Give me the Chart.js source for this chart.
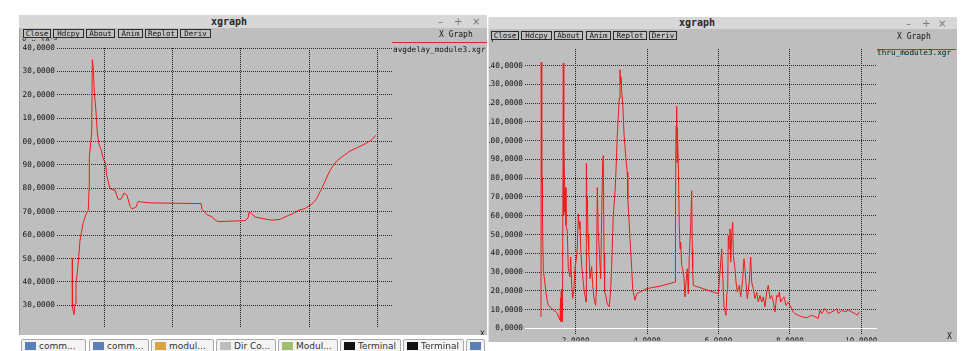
<!DOCTYPE html>
<html>
<head>
<meta charset="utf-8">
<script src="https://cdn.jsdelivr.net/npm/chart.js@4.4.1/dist/chart.umd.min.js"></script>
<style>
*{box-sizing:border-box;}
html,body{margin:0;padding:0;background:#fff;}
body{width:964px;height:351px;position:relative;overflow:hidden;font-family:'DejaVu Sans Mono',monospace;}
.win{position:absolute;background:#bebebe;}
.tbar{position:absolute;background:#d7d7d7;}
.ttl{position:absolute;height:12px;line-height:12px;font:bold 10px 'DejaVu Sans Mono',monospace;color:#2a2a2a;text-align:center;}
.ctl{position:absolute;height:12px;line-height:12px;font:10px 'DejaVu Sans',sans-serif;color:#777;}
.btn{position:absolute;height:9px;border:1px solid #2a2a2a;font:7.5px 'DejaVu Sans Mono',monospace;line-height:7px;text-align:center;color:#111;background:#c2c2c2;}
.txt{position:absolute;font:7.7px 'DejaVu Sans Mono',monospace;color:#111;white-space:nowrap;line-height:9px;}
.clip{position:absolute;overflow:hidden;}
.task{position:absolute;top:339px;height:16px;border:1px solid #a9a9a9;border-radius:2px;background:#f3f3f3;font:9px 'DejaVu Sans',sans-serif;color:#333;line-height:12px;padding-left:17px;white-space:nowrap;overflow:hidden;}
.ico{position:absolute;left:3px;top:2px;width:11px;height:8px;}
canvas{position:absolute;}
</style>
</head>
<body>
<!-- left window -->
<div class="win" style="left:19px;top:15px;width:468px;height:320px;border-left:1px solid #a0a0a0;"></div>
<div class="tbar" style="left:19px;top:15px;width:468px;height:13px;"></div>
<div class="ttl" style="left:209px;top:15.5px;width:40px;">xgraph</div>
<div class="ctl" style="left:438px;top:15.5px;">&#8211;</div>
<div class="ctl" style="left:454px;top:15.5px;">+</div>
<div class="ctl" style="left:472px;top:15.5px;">&#215;</div>
<canvas id="delayChart" width="464" height="296" style="left:23px;top:38px;"></canvas>
<div class="clip" style="left:21px;top:37.5px;width:40px;height:3.5px;"><div class="txt" style="left:1px;top:-5px;">Y x 10<sup style="font-size:6px">-3</sup></div></div>
<div class="btn" style="left:23px;top:29px;width:28px;">Close</div>
<div class="btn" style="left:53px;top:29px;width:31px;">Hdcpy</div>
<div class="btn" style="left:86px;top:29px;width:29px;">About</div>
<div class="btn" style="left:118px;top:29px;width:25px;">Anim</div>
<div class="btn" style="left:145px;top:29px;width:33px;">Replot</div>
<div class="btn" style="left:180px;top:29px;width:31px;">Deriv</div>
<div class="txt" style="left:439px;top:30px;font-size:8px;">X Graph</div>
<div style="position:absolute;left:392px;top:42px;width:95px;height:1px;background:#e22;"></div>
<div class="txt" style="left:393px;top:45px;">avgdelay_module3.xgr</div>
<div class="clip" style="left:479px;top:328px;width:8px;height:7px;"><div class="txt" style="left:1px;top:1px;">X</div></div>

<!-- right window -->
<div class="win" style="left:488px;top:17px;width:469px;height:325px;border-left:1px solid #e4e4e4;"></div>
<div class="tbar" style="left:489px;top:17px;width:468px;height:12px;"></div>
<div class="ttl" style="left:677px;top:17px;width:40px;">xgraph</div>
<div class="ctl" style="left:906px;top:17.5px;">&#8211;</div>
<div class="ctl" style="left:922px;top:17.5px;">+</div>
<div class="ctl" style="left:938px;top:17.5px;">&#215;</div>
<canvas id="thruChart" width="468" height="302" style="left:489px;top:40px;"></canvas>
<div class="clip" style="left:490px;top:39.5px;width:10px;height:3px;"><div class="txt" style="left:0px;top:-5px;">Y</div></div>
<div class="btn" style="left:491px;top:30.5px;width:28px;">Close</div>
<div class="btn" style="left:521px;top:30.5px;width:31px;">Hdcpy</div>
<div class="btn" style="left:554px;top:30.5px;width:29px;">About</div>
<div class="btn" style="left:586px;top:30.5px;width:25px;">Anim</div>
<div class="btn" style="left:613px;top:30.5px;width:34px;">Replot</div>
<div class="btn" style="left:649px;top:30.5px;width:28px;">Deriv</div>
<div class="txt" style="left:897px;top:32px;font-size:8px;">X Graph</div>
<div style="position:absolute;left:877px;top:48.5px;width:79px;height:1px;background:#e22;"></div>
<div class="txt" style="left:877px;top:48px;">thru_module3.xgr</div>
<div class="txt" style="left:947px;top:332px;font-size:8px;">X</div>

<!-- taskbar -->
<div class="task" style="left:21px;width:65px;"><span class="ico" style="background:#5b7fb8"></span>comm...</div>
<div class="task" style="left:89px;width:60px;"><span class="ico" style="background:#5b7fb8"></span>comm...</div>
<div class="task" style="left:151px;width:63px;"><span class="ico" style="background:#d9a441"></span>modul...</div>
<div class="task" style="left:216px;width:60px;"><span class="ico" style="background:#bdbdbd"></span>Dir Co...</div>
<div class="task" style="left:278px;width:60px;"><span class="ico" style="background:#9fbf6f"></span>Modul...</div>
<div class="task" style="left:340px;width:61px;"><span class="ico" style="background:#111"></span>Terminal</div>
<div class="task" style="left:403px;width:61px;"><span class="ico" style="background:#111"></span>Terminal</div>
<div class="task" style="left:466px;width:16px;"><span class="ico" style="background:#5b7fb8"></span></div>

<script>
// ---- data: average delay (module 3), Y x 10^-3 ----
const delayTime = [1.063, 1.066, 1.113, 1.142, 1.171, 1.209, 1.250, 1.288, 1.338, 1.385,
  1.464, 1.531, 1.552, 1.560, 1.602, 1.631, 1.649, 1.678, 1.707, 1.757,
  1.795, 1.845, 1.903, 1.971, 2.029, 2.070, 2.117, 2.167, 2.264, 2.313,
  2.401, 2.489, 2.577, 2.665, 2.753, 2.811, 2.928, 2.987, 3.192, 3.338,
  4.832, 4.861, 4.949, 5.037, 5.154, 5.242, 5.330, 5.681, 6.120, 6.208,
  6.237, 6.281, 6.413, 6.618, 6.911, 7.145, 7.350, 7.584, 7.672, 7.877,
  8.053, 8.199, 8.316, 8.433, 8.580, 8.697, 8.814, 8.960, 9.195, 9.400,
  9.634, 9.839, 9.947];
const delayValue = [50.0, 29.2, 26.1, 30.6, 39.7, 43.8, 50.8, 57.7, 61.9, 65.4,
  68.9, 70.7, 79.3, 93.2, 99.5, 103.7, 135.0, 131.5, 121.1, 112.7,
  103.7, 98.8, 96.7, 92.5, 91.1, 85.6, 82.8, 80.0, 79.3, 79.3,
  75.4, 75.4, 78.0, 77.0, 72.4, 71.2, 72.0, 74.4, 74.0, 73.8,
  73.5, 71.0, 69.6, 68.5, 67.9, 66.5, 65.8, 66.0, 66.2, 67.4,
  70.0, 69.6, 67.8, 67.1, 66.4, 66.8, 68.2, 69.6, 70.6, 71.4,
  73.1, 75.2, 78.6, 82.1, 87.0, 89.8, 91.9, 93.5, 96.0, 97.4,
  99.0, 100.9, 102.7];

// ---- data: throughput (module 3) ----
const thruTime = [1.028, 1.035, 1.045, 1.052, 1.060, 1.070, 1.092, 1.140, 1.188, 1.233,
  1.328, 1.468, 1.560, 1.575, 1.585, 1.595, 1.605, 1.615, 1.630, 1.653,
  1.660, 1.672, 1.690, 1.700, 1.715, 1.728, 1.765, 1.793, 1.840, 1.860,
  1.888, 1.916, 1.952, 1.980, 2.008, 2.045, 2.073, 2.101, 2.120, 2.140,
  2.168, 2.196, 2.232, 2.289, 2.300, 2.318, 2.325, 2.345, 2.364, 2.401,
  2.448, 2.476, 2.513, 2.560, 2.580, 2.605, 2.633, 2.661, 2.700, 2.728,
  2.756, 2.773, 2.793, 2.810, 2.849, 2.885, 2.941, 2.980, 3.008, 3.053,
  3.101, 3.129, 3.165, 3.193, 3.221, 3.241, 3.255, 3.269, 3.289, 3.317,
  3.353, 3.381, 3.409, 3.445, 3.460, 3.493, 3.521, 3.569, 3.597, 3.633,
  3.661, 3.709, 3.801, 3.989, 4.361, 4.782, 4.795, 4.810, 4.829, 4.840,
  4.846, 4.874, 4.902, 4.922, 4.941, 4.969, 4.997, 5.034, 5.062, 5.090,
  5.126, 5.154, 5.182, 5.221, 5.249, 5.266, 5.277, 5.294, 5.994, 6.042,
  6.090, 6.118, 6.154, 6.210, 6.230, 6.258, 6.275, 6.303, 6.322, 6.342,
  6.370, 6.398, 6.415, 6.462, 6.490, 6.527, 6.583, 6.622, 6.650, 6.678,
  6.714, 6.742, 6.770, 6.807, 6.863, 6.902, 6.930, 6.975, 7.022, 7.070,
  7.115, 7.162, 7.210, 7.255, 7.303, 7.350, 7.395, 7.443, 7.490, 7.535,
  7.583, 7.630, 7.675, 7.703, 7.742, 7.798, 7.835, 7.891, 7.955, 8.003,
  8.050, 8.095, 8.143, 8.235, 8.331, 8.471, 8.611, 8.703, 8.795, 8.843,
  8.891, 8.983, 9.076, 9.171, 9.263, 9.311, 9.355, 9.451, 9.543, 9.636,
  9.731, 9.824, 9.888, 9.944];
const thruValue = [6.2, 141.8, 92, 78, 80, 57, 31, 24, 16, 12.3,
  10.6, 8.5, 4.4, 16, 3.7, 20, 5, 21, 3.5, 141.2,
  60, 98, 74, 62, 75, 55, 51.4, 31.8, 27.5, 38,
  23, 16, 21, 32, 35.5, 43, 61, 53, 57, 44,
  33.5, 28, 21, 14, 88, 62, 70, 50, 42, 26.5,
  33, 23, 16, 12.3, 20, 75, 51.4, 42, 26.5, 60,
  89, 92, 40, 19.5, 17, 13, 11.6, 21, 33.5, 60,
  72.5, 84, 103, 113, 122.7, 137.7, 130, 134, 126, 120,
  104, 97, 90, 83, 69, 58, 47.7, 31.8, 21, 17.6,
  15, 18.5, 19.4, 21.2, 22.5, 24.7, 66.2, 107.7, 118.3, 88.3,
  107, 88.3, 54.7, 42.4, 45.9, 33.5, 31.8, 26.5, 16.8, 24.7,
  31.8, 18.5, 38.8, 53.9, 73.3, 42.4, 31.8, 22.9, 18.5, 30,
  42.4, 28.2, 11.5, 7.0, 17.6, 21.2, 49.4, 42.4, 53.0, 35.3,
  49.4, 56.5, 38.8, 31.8, 24.7, 19.4, 22.9, 16.8, 21.2, 26.5,
  37.1, 31.8, 24.7, 15.9, 24.7, 38.0, 24.7, 21.2, 15.9, 19.4,
  14.1, 17.6, 14.1, 16.8, 11.5, 19.4, 22.9, 15.9, 17.6, 14.1,
  8.8, 17.6, 16.8, 19.4, 14.1, 15.9, 16.8, 12.3, 14.1, 12.3,
  10.6, 8.8, 7.9, 7.0, 6.2, 5.7, 7.0, 6.2, 5.3, 9.7,
  7.9, 10.6, 7.9, 8.8, 9.7, 10.6, 7.9, 9.7, 8.8, 9.7,
  8.8, 7.9, 7.0, 8.8];

// ---- tick values / labels ----
const xTickValues = [2, 4, 6, 8, 10];
const xTickLabels = ['2,0000', '4,0000', '6,0000', '8,0000', '10,0000'];
const delayYTickValues = [30, 40, 50, 60, 70, 80, 90, 100, 110, 120, 130, 140];
const delayYTickLabels = ['30,0000', '40,0000', '50,0000', '60,0000', '70,0000', '80,0000',
  '90,0000', '100,0000', '110,0000', '120,0000', '130,0000', '140,0000'];
const thruYTickValues = [0, 10, 20, 30, 40, 50, 60, 70, 80, 90, 100, 110, 120, 130, 140];
const thruYTickLabels = ['0,0000', '10,0000', '20,0000', '30,0000', '40,0000', '50,0000',
  '60,0000', '70,0000', '80,0000', '90,0000', '100,0000', '110,0000', '120,0000', '130,0000', '140,0000'];

const tickFont = {family: "'DejaVu Sans Mono', monospace", size: 7.7};
function fixedTicks(vals) { return function (scale) { scale.ticks = vals.map(v => ({value: v})); }; }

function lineChart(id, times, values, o) {
  const pts = times.map((t, i) => ({x: t, y: values[i]}));
  return new Chart(document.getElementById(id), {
    type: 'line',
    data: {datasets: [{data: pts, borderColor: '#f01a1a', borderWidth: 1, pointRadius: 0, tension: 0, fill: false}]},
    options: {
      responsive: false, animation: false, events: [],
      layout: {padding: o.padding},
      plugins: {legend: {display: false}, tooltip: {enabled: false}},
      scales: {
        x: {
          type: 'linear', min: o.xMin, max: o.xMax,
          afterBuildTicks: fixedTicks(xTickValues),
          afterFit: s => { s.height = o.xAxisH; },
          grid: {color: '#1a1a1a', lineWidth: 1, drawTicks: false},
          border: {display: false, dash: [1, 1]},
          ticks: {display: o.showX, autoSkip: false, maxRotation: 0, padding: 1, color: '#111', font: tickFont,
                  callback: (v, i) => xTickLabels[i]}
        },
        y: {
          type: 'linear', min: o.yMin, max: o.yMax,
          afterBuildTicks: fixedTicks(o.yTicks),
          afterFit: s => { s.width = o.yAxisW; },
          grid: {color: c => (c.tick && c.tick.value === 0) ? '#ffffff' : '#2a2a2a', lineWidth: 1, drawTicks: false},
          border: {display: false, dash: c => (c.tick && c.tick.value === 0) ? [] : [1, 1]},
          ticks: {autoSkip: false, padding: 2, color: '#111', font: tickFont,
                  callback: (v, i) => o.yLabels[i]}
        }
      }
    }
  });
}

lineChart('delayChart', delayTime, delayValue, {
  padding: {left: 0, right: 95, top: 10, bottom: 0},
  xMin: 0.615, xMax: 10.42, xAxisH: 0, showX: false,
  yMin: 20.6, yMax: 140, yAxisW: 34,
  yTicks: delayYTickValues, yLabels: delayYTickLabels
});
lineChart('thruChart', thruTime, thruValue, {
  padding: {left: 0, right: 80, top: 9, bottom: 0},
  xMin: 0.58, xMax: 10.44, xAxisH: 5, showX: true,
  yMin: -3.7, yMax: 148.8, yAxisW: 36,
  yTicks: thruYTickValues, yLabels: thruYTickLabels
});
</script>
</body>
</html>
